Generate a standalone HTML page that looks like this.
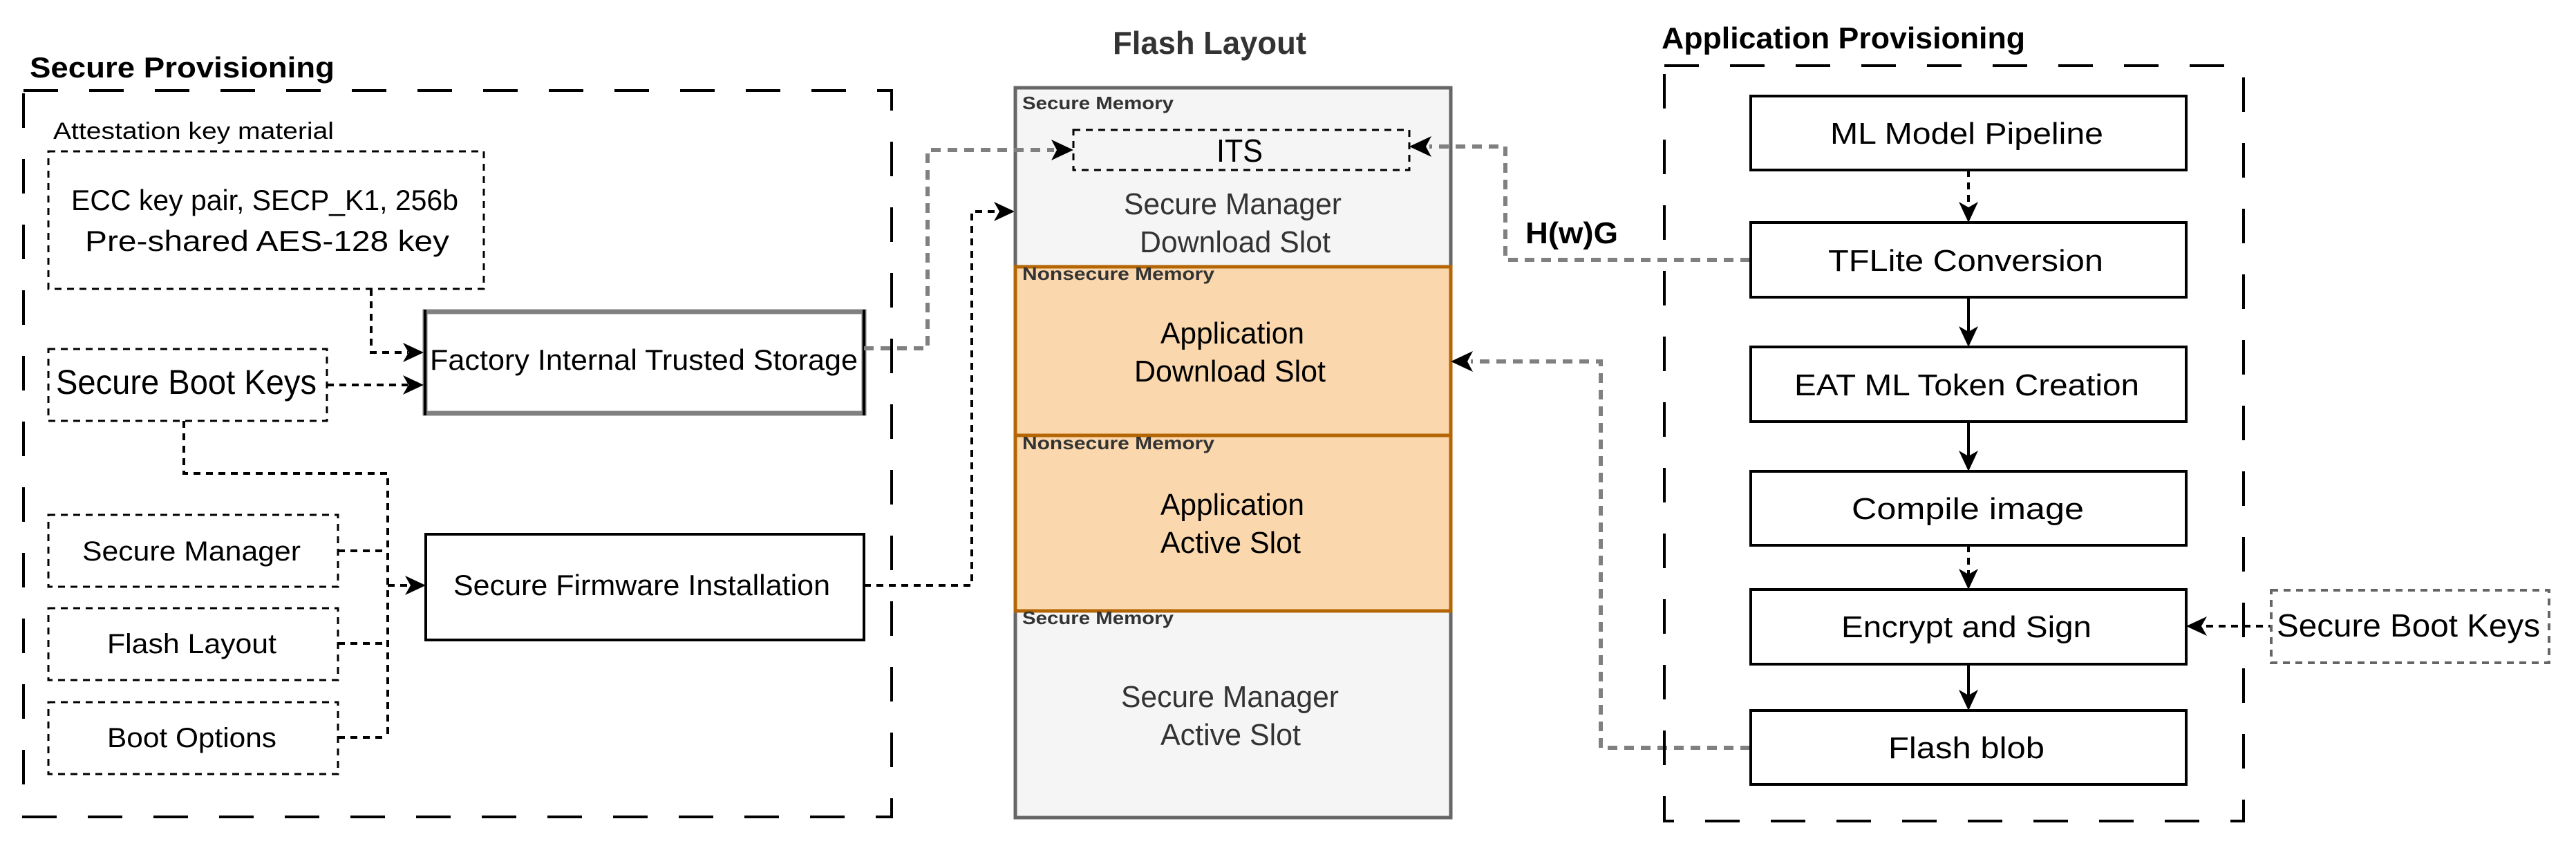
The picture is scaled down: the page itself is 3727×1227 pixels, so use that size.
<!DOCTYPE html>
<html><head><meta charset="utf-8"><style>
html,body{margin:0;padding:0;background:#fff;}
svg{display:block;}
text{font-family:"Liberation Sans",sans-serif;}
</style></head><body>
<svg width="3727" height="1227" viewBox="0 0 3727 1227" xmlns="http://www.w3.org/2000/svg">

<!-- Titles -->
<text x="43" y="112" font-size="42" font-weight="bold" fill="#000" textLength="441" lengthAdjust="spacingAndGlyphs">Secure Provisioning</text>
<text x="1610" y="78" font-size="46" font-weight="bold" fill="#333" textLength="280" lengthAdjust="spacingAndGlyphs">Flash Layout</text>
<text x="2404" y="70" font-size="44" font-weight="bold" fill="#000" textLength="526" lengthAdjust="spacingAndGlyphs">Application Provisioning</text>

<!-- Left outer dashed -->
<rect x="34" y="131" width="1256" height="1051" fill="none" stroke="#000" stroke-width="4" stroke-dasharray="50 45"/>
<text x="77" y="201" font-size="34" fill="#000" textLength="406" lengthAdjust="spacingAndGlyphs">Attestation key material</text>

<rect x="70" y="219" width="630" height="199" fill="none" stroke="#000" stroke-width="3" stroke-dasharray="10 8"/>
<text x="103" y="304" font-size="42" fill="#000" textLength="560" lengthAdjust="spacingAndGlyphs">ECC key pair, SECP_K1, 256b</text>
<text x="123" y="363" font-size="42" fill="#000" textLength="527" lengthAdjust="spacingAndGlyphs">Pre-shared AES-128 key</text>

<rect x="615" y="451" width="635" height="147" fill="#fff" stroke="#808080" stroke-width="7"/>
<line x1="615" y1="448" x2="615" y2="601" stroke="#000" stroke-width="4"/>
<line x1="1250" y1="448" x2="1250" y2="601" stroke="#000" stroke-width="4"/>
<text x="622" y="535" font-size="42" fill="#000" textLength="619" lengthAdjust="spacingAndGlyphs">Factory Internal Trusted Storage</text>

<rect x="70" y="505" width="403" height="104" fill="none" stroke="#000" stroke-width="3" stroke-dasharray="10 8"/>
<text x="81" y="570" font-size="50" fill="#000" textLength="377" lengthAdjust="spacingAndGlyphs">Secure Boot Keys</text>

<rect x="70" y="745" width="419" height="104" fill="none" stroke="#000" stroke-width="3" stroke-dasharray="10 8"/>
<text x="119" y="811" font-size="40" fill="#000" textLength="316" lengthAdjust="spacingAndGlyphs">Secure Manager</text>
<rect x="70" y="880" width="419" height="104" fill="none" stroke="#000" stroke-width="3" stroke-dasharray="10 8"/>
<text x="155" y="945" font-size="40" fill="#000" textLength="245" lengthAdjust="spacingAndGlyphs">Flash Layout</text>
<rect x="70" y="1016" width="419" height="104" fill="none" stroke="#000" stroke-width="3" stroke-dasharray="10 8"/>
<text x="155" y="1081" font-size="40" fill="#000" textLength="245" lengthAdjust="spacingAndGlyphs">Boot Options</text>

<rect x="616" y="773" width="634" height="153" fill="#fff" stroke="#000" stroke-width="4"/>
<text x="656" y="861" font-size="42" fill="#000" textLength="545" lengthAdjust="spacingAndGlyphs">Secure Firmware Installation</text>

<!-- left connectors -->
<g fill="none" stroke="#000" stroke-width="4" stroke-dasharray="10 8">
<polyline points="537,418 537,510 590,510"/>
<polyline points="473,557 590,557"/>
<polyline points="266,609 266,685 561,685 561,1068"/>
<polyline points="489,797 561,797"/>
<polyline points="489,931 561,931"/>
<polyline points="489,1067 561,1067"/>
<polyline points="561,847 590,847"/>
<polyline points="1250,847 1406,847 1406,306 1440,306"/>
</g>
<g fill="#000">
<polygon points="613,510 583,496 591,510 583,524"/>
<polygon points="613,557 583,543 591,557 583,571"/>
<polygon points="616,847 586,833 594,847 586,861"/>
<polygon points="1468,306 1438,292 1446,306 1438,320"/>
</g>

<!-- Flash layout -->
<rect x="1469" y="127" width="630" height="1056" fill="#f5f5f5" stroke="#666" stroke-width="5"/>
<rect x="1469" y="386" width="630" height="244" fill="#fad7ac" stroke="#b46504" stroke-width="5"/>
<rect x="1469" y="630" width="630" height="254" fill="#fad7ac" stroke="#b46504" stroke-width="5"/>
<g font-size="26" font-weight="bold" fill="#333">
<text x="1479" y="158" textLength="219" lengthAdjust="spacingAndGlyphs">Secure Memory</text>
<text x="1479" y="405" textLength="278" lengthAdjust="spacingAndGlyphs">Nonsecure Memory</text>
<text x="1479" y="650" textLength="278" lengthAdjust="spacingAndGlyphs">Nonsecure Memory</text>
<text x="1479" y="903" textLength="219" lengthAdjust="spacingAndGlyphs">Secure Memory</text>
</g>
<rect x="1553" y="188" width="486" height="58" fill="none" stroke="#000" stroke-width="3" stroke-dasharray="10 8"/>
<text x="1760" y="234" font-size="46" fill="#000" textLength="67" lengthAdjust="spacingAndGlyphs">ITS</text>
<g font-size="44" fill="#333">
<text x="1626" y="310" textLength="315" lengthAdjust="spacingAndGlyphs">Secure Manager</text>
<text x="1649" y="365" textLength="276" lengthAdjust="spacingAndGlyphs">Download Slot</text>
<text x="1622" y="1023" textLength="315" lengthAdjust="spacingAndGlyphs">Secure Manager</text>
<text x="1679" y="1078" textLength="203" lengthAdjust="spacingAndGlyphs">Active Slot</text>
</g>
<g font-size="44" fill="#000">
<text x="1679" y="497" textLength="208" lengthAdjust="spacingAndGlyphs">Application</text>
<text x="1641" y="552" textLength="277" lengthAdjust="spacingAndGlyphs">Download Slot</text>
<text x="1679" y="745" textLength="208" lengthAdjust="spacingAndGlyphs">Application</text>
<text x="1679" y="800" textLength="203" lengthAdjust="spacingAndGlyphs">Active Slot</text>
</g>

<!-- gray connectors -->
<g fill="none" stroke="#808080" stroke-width="6" stroke-dasharray="14 10">
<polyline points="1250,504 1342,504 1342,217 1525,217"/>
<polyline points="2532,376 2178,376 2178,212 2068,212"/>
<polyline points="2532,1082 2316,1082 2316,523 2128,523"/>
</g>
<g fill="#000">
<polygon points="1553,217 1521,202 1529,217 1521,232"/>
<polygon points="2039,212 2071,197 2063,212 2071,227"/>
<polygon points="2099,523 2131,508 2123,523 2131,538"/>
</g>
<text x="2207" y="352" font-size="44" font-weight="bold" fill="#000" textLength="134" lengthAdjust="spacingAndGlyphs">H(w)G</text>

<!-- App provisioning -->
<rect x="2408" y="95" width="838" height="1093" fill="none" stroke="#000" stroke-width="4" stroke-dasharray="50 45"/>
<g fill="#fff" stroke="#000" stroke-width="4">
<rect x="2533" y="139" width="630" height="107"/>
<rect x="2533" y="322" width="630" height="108"/>
<rect x="2533" y="502" width="630" height="108"/>
<rect x="2533" y="682" width="630" height="107"/>
<rect x="2533" y="853" width="630" height="108"/>
<rect x="2533" y="1028" width="630" height="107"/>
</g>
<g font-size="44" fill="#000">
<text x="2648" y="208" textLength="395" lengthAdjust="spacingAndGlyphs">ML Model Pipeline</text>
<text x="2645" y="392" textLength="398" lengthAdjust="spacingAndGlyphs">TFLite Conversion</text>
<text x="2596" y="572" textLength="499" lengthAdjust="spacingAndGlyphs">EAT ML Token Creation</text>
<text x="2679" y="751" textLength="336" lengthAdjust="spacingAndGlyphs">Compile image</text>
<text x="2664" y="922" textLength="362" lengthAdjust="spacingAndGlyphs">Encrypt and Sign</text>
<text x="2732" y="1097" textLength="226" lengthAdjust="spacingAndGlyphs">Flash blob</text>
</g>
<g stroke="#000" stroke-width="4" fill="none">
<line x1="2848" y1="246" x2="2848" y2="300" stroke-dasharray="10 8"/>
<line x1="2848" y1="430" x2="2848" y2="480"/>
<line x1="2848" y1="610" x2="2848" y2="660"/>
<line x1="2848" y1="789" x2="2848" y2="831" stroke-dasharray="10 8"/>
<line x1="2848" y1="961" x2="2848" y2="1006"/>
<line x1="3192" y1="906" x2="3286" y2="906" stroke-dasharray="10 8"/>
</g>
<g fill="#000">
<polygon points="2848,322 2834,292 2848,300 2862,292"/>
<polygon points="2848,502 2834,472 2848,480 2862,472"/>
<polygon points="2848,682 2834,652 2848,660 2862,652"/>
<polygon points="2848,853 2834,823 2848,831 2862,823"/>
<polygon points="2848,1028 2834,998 2848,1006 2862,998"/>
<polygon points="3163,906 3193,892 3185,906 3193,920"/>
</g>
<rect x="3286" y="854" width="402" height="105" fill="#fff" stroke="#666" stroke-width="4" stroke-dasharray="10 8"/>
<text x="3294" y="921" font-size="46" fill="#000" textLength="381" lengthAdjust="spacingAndGlyphs">Secure Boot Keys</text>
</svg>
</body></html>
